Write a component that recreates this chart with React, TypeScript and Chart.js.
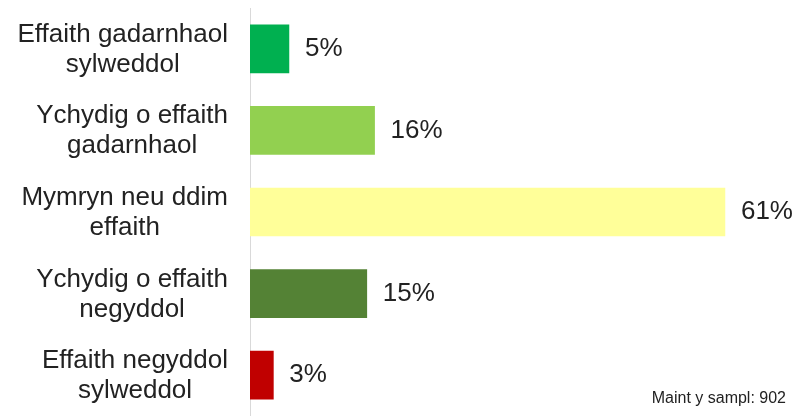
import React, { useEffect, useRef } from "react";
import { Chart, registerables } from "chart.js";

Chart.register(...registerables);

const categories: string[][] = [
  ["Effaith gadarnhaol", "sylweddol"],
  ["Ychydig o effaith", "gadarnhaol"],
  ["Mymryn neu ddim", "effaith"],
  ["Ychydig o effaith", "negyddol"],
  ["Effaith negyddol", "sylweddol"],
];
const values: number[] = [5, 16, 61, 15, 3];
const barColors: string[] = ["#00B050", "#92D050", "#FFFF99", "#548235", "#C00000"];
const footnote = "Maint y sampl: 902";

const FONT = '"Liberation Sans", Arial, sans-serif';
const TEXT = "#222222";

const textPlugin = {
  id: "textPlugin",
  afterDatasetsDraw(chart: any) {
    const ctx = chart.ctx;
    const meta = chart.getDatasetMeta(0);
    const yScale = chart.scales.y;
    ctx.save();
    ctx.fillStyle = TEXT;

    // category labels: each block right-aligned against the axis, lines centred within block
    ctx.font = `26px ${FONT}`;
    ctx.textAlign = "center";
    ctx.textBaseline = "alphabetic";
    const right = yScale.right - 22;
    categories.forEach((lines, i) => {
      const yc = yScale.getPixelForTick(i);
      const w = Math.max(...lines.map((l) => ctx.measureText(l).width));
      const cx = right - w / 2;
      lines.forEach((l, j) => {
        ctx.fillText(l, cx, yc - 7 + j * 30);
      });
    });

    // value labels
    ctx.font = `26px ${FONT}`;
    ctx.textAlign = "left";
    ctx.textBaseline = "middle";
    meta.data.forEach((bar: any, i: number) => {
      ctx.fillText(`${values[i]}%`, bar.x + 16, bar.y);
    });

    // footnote
    ctx.font = `16px ${FONT}`;
    ctx.textAlign = "right";
    ctx.textBaseline = "alphabetic";
    ctx.fillText(footnote, chart.width - 9, chart.height - 13);
    ctx.restore();
  },
};

export default function App() {
  const ref = useRef<HTMLCanvasElement | null>(null);
  useEffect(() => {
    if (!ref.current) return;
    const chart = new Chart(ref.current, {
      type: "bar",
      data: {
        labels: categories,
        datasets: [
          {
            data: values,
            backgroundColor: barColors,
            borderWidth: 0,
            barThickness: 48,
          },
        ],
      },
      options: {
        indexAxis: "y",
        animation: false,
        responsive: true,
        maintainAspectRatio: false,
        layout: { padding: { top: 8, bottom: 0, left: 0, right: 0 } },
        plugins: {
          legend: { display: false },
          tooltip: { enabled: false },
          title: { display: false },
        },
        scales: {
          x: {
            display: false,
            min: 0,
            max: 70,
          },
          y: {
            afterFit: (scale: any) => {
              scale.width = 250;
              scale.paddingTop = 0;
              scale.paddingBottom = 0;
            },
            grid: { display: false, drawTicks: false },
            border: { display: true, color: "#d9d9d9", width: 1 },
            ticks: { display: false },
          },
        },
      },
      plugins: [textPlugin],
    });
    return () => chart.destroy();
  }, []);
  return (
    <div style={{ position: "fixed", left: 0, top: 0, width: 795, height: 416, background: "#fff" }}>
      <canvas ref={ref} />
    </div>
  );
}
